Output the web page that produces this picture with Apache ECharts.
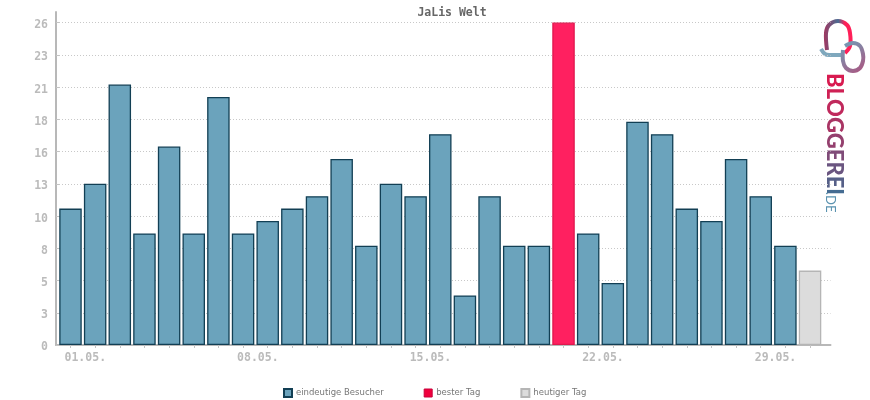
<!DOCTYPE html>
<html>
<head>
<meta charset="utf-8">
<title>JaLis Welt</title>
<script src="https://cdn.jsdelivr.net/npm/echarts@6/dist/echarts.min.js"></script>
<style>
html,body{margin:0;padding:0;background:#fff;}
#container{width:870px;height:400px;}
</style>
</head>
<body>
<div id="container"></div>
<script>
// day index 0 = 01.05.
var days = [0,1,2,3,4,5,6,7,8,9,10,11,12,13,14,15,16,17,18,19,20,21,22,23,24,25,26,27,28,29,30];
var visitors = [11,13,21,9,16,9,20,9,10,11,12,15,8,13,12,17,4,12,8,8,null,9,5,18,17,11,10,15,12,8,null];
var bestDay = [[20,26]];
var today = [[30,6]];
var yTicks = [0,2.6,5.2,7.8,10.4,13,15.6,18.2,20.8,23.4,26];
var dateLabels = ['01.05.','08.05.','15.05.','22.05.','29.05.'];
var labelPos = [0.6,7.6,14.6,21.6,28.6];
var logoLetters = ['B','L','O','G','G','E','R','E','I'];
var logoColors = ['#d81b50','#cf2155','#c0295c','#a93564','#94406e','#7f4b78','#6a5580','#566088','#456c92'];

var mono = '"DejaVu Sans Mono", monospace';
var logoGrad1 = {type:'linear',x:0,y:0,x2:1,y2:0,colorStops:[{offset:0,color:'#a3365f'},{offset:0.5,color:'#4a6c92'},{offset:0.72,color:'#ff1f58'},{offset:1,color:'#ff1f58'}]};
var logoGrad2 = {type:'linear',x:0,y:0,x2:1,y2:1,colorStops:[{offset:0,color:'#6ba3bc'},{offset:1,color:'#b0507c'}]};

// rich text keeps the whole word as one rotated block, one colour per letter
var logoRich = {};
var logoText = '';
logoLetters.forEach(function(c,i){
	logoRich['l'+i] = {fill:logoColors[i],fontFamily:'Lato',fontWeight:900,fontSize:22};
	logoText += '{l'+i+'|'+c+'}';
});

var myChart = echarts.init(document.getElementById('container'));
var option = {
	backgroundColor:'#fff',
	animation:false,
	title:{
		text:'JaLis Welt',
		left:447,
		textAlign:'center',
		top:2,
		textStyle:{fontFamily:mono,fontSize:11.5,fontWeight:'bold',color:'#666'}
	},
	legend:{
		left:283,
		top:388,
		itemWidth:8,
		itemHeight:8,
		itemGap:40,
		padding:0,
		icon:'rect',
		textStyle:{fontFamily:'"DejaVu Sans"',fontSize:8.5,color:'#777',padding:[0,0,0,-1]},
		data:[
			{name:'eindeutige Besucher'},
			{name:'bester Tag',itemStyle:{color:'#f0003c',borderColor:'#c8003a',borderWidth:1}},
			{name:'heutiger Tag'}
		]
	},
	grid:{left:56,top:12,width:774.5,height:333},
	xAxis:{
		type:'value',
		min:-0.588,
		max:30.83,
		splitLine:{show:false},
		axisLine:{onZero:false,lineStyle:{color:'#b8b8b8',width:2}},
		axisTick:{length:3,lineStyle:{color:'#c4c4c4'},customValues:days},
		axisLabel:{
			customValues:labelPos,
			margin:7,
			fontFamily:mono,
			fontSize:11.5,
			fontWeight:'bold',
			color:'#bbb',
			formatter:function(v){return dateLabels[labelPos.indexOf(v)];}
		}
	},
	yAxis:{
		type:'value',
		min:0,
		max:26.85,
		axisLine:{show:true,onZero:false,lineStyle:{color:'#b8b8b8',width:2}},
		axisTick:{show:true,inside:true,length:3,lineStyle:{color:'#c4c4c4'},customValues:yTicks},
		splitLine:{show:true,lineStyle:{color:'#c8c8c8',type:[1,2],width:1}},
		axisLabel:{
			customValues:yTicks,
			margin:8,
			verticalAlign:'top',
			lineHeight:5,
			fontFamily:mono,
			fontSize:11.5,
			fontWeight:'bold',
			color:'#bbb',
			formatter:function(v){return String(Math.round(v));}
		}
	},
	series:[{
		name:'eindeutige Besucher',
		type:'bar',
		barWidth:22.5,
		barGap:'-100%',
		itemStyle:{color:'#6ba3bc',borderColor:'#123f54',borderWidth:1.3},
		data:days.map(function(d){return [d,visitors[d]];})
	},{
		name:'bester Tag',
		type:'bar',
		barWidth:22.5,
		barGap:'-100%',
		itemStyle:{color:'#ff2060',borderColor:'#e0184e',borderWidth:1.3},
		data:bestDay
	},{
		name:'heutiger Tag',
		type:'bar',
		barWidth:22.5,
		barGap:'-100%',
		itemStyle:{color:'#dcdcdc',borderColor:'#b5b5b5',borderWidth:1.3},
		data:today
	}],
	graphic:[{
		type:'polyline',
		shape:{smooth:0.35,points:[[821,49],[825,54],[830,55],[842,55]]},
		style:{fill:null,stroke:'#7fa8bd',lineWidth:4}
	},{
		type:'polyline',
		shape:{smooth:0.35,points:[[827,50],[826,33],[829,25],[838,21],[847,25],[850,33],[850,46],[845,53]]},
		style:{fill:null,stroke:logoGrad1,lineWidth:4}
	},{
		type:'polyline',
		shape:{smooth:0.35,points:[[845,46],[853,43],[860,46],[863,54],[863,61],[860,68],[853,71],[846,68],[843,61],[843,50]]},
		style:{fill:null,stroke:logoGrad2,lineWidth:4}
	},{
		type:'text',
		x:823,
		y:73,
		rotation:-Math.PI/2,
		style:{text:logoText,rich:logoRich,textAlign:'left',textVerticalAlign:'bottom'}
	},{
		type:'text',
		x:824,
		y:192,
		rotation:-Math.PI/2,
		style:{text:'.DE',fontFamily:'Lato',fontSize:13,fill:'#5b93b0',textAlign:'left',textVerticalAlign:'bottom'}
	}]
};
myChart.setOption(option);
</script>
</body>
</html>
